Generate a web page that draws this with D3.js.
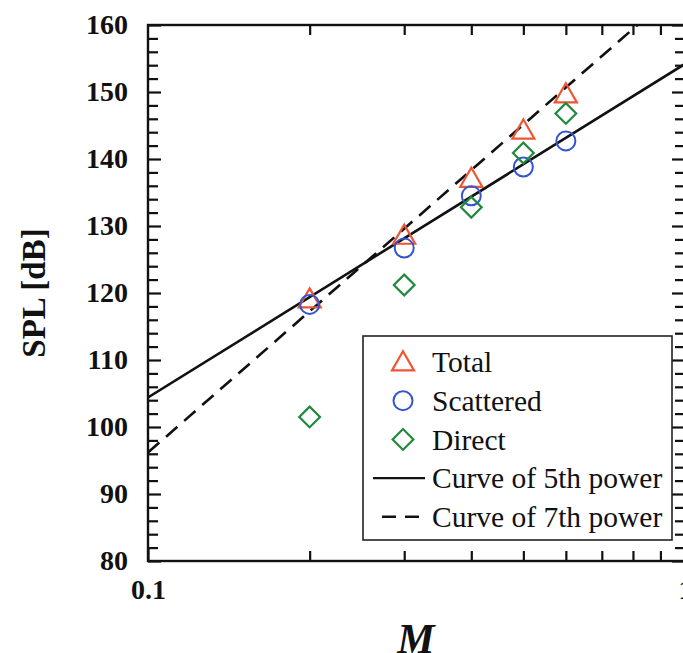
<!DOCTYPE html>
<html>
<head>
<meta charset="utf-8">
<script src="https://cdn.jsdelivr.net/npm/d3@7"></script>
<style>
html, body { margin: 0; padding: 0; background: #fff; }
svg { display: block; }
</style>
</head>
<body>
<svg id="chart" width="683" height="653"></svg>
<script>
// ---- data ----
const machNumbers = [0.2, 0.3, 0.4, 0.5, 0.6];
const totalSPL = [118.8, 128.3, 136.8, 144.0, 149.4];
const scatteredSPL = [118.3, 126.7, 134.5, 138.8, 142.7];
const directSPL = [101.5, 121.2, 132.8, 140.9, 146.8];
// reference power-law curves (straight lines on log axis), endpoints
const curve5M = [0.1, 1];
const curve5SPL = [104.4, 154.2];
const curve7M = [0.1, 1];
const curve7SPL = [96.2, 166.2];
const xMajorTicks = [0.1, 1];
const xMinorTicks = [0.2, 0.3, 0.4, 0.5, 0.6, 0.7, 0.8, 0.9];
const yMajorTicks = [80, 90, 100, 110, 120, 130, 140, 150, 160];
const yMinorTicks = d3.range(80, 161, 2).filter(v => v % 10 !== 0);
const legendLabels = ["Total", "Scattered", "Direct", "Curve of 5th power", "Curve of 7th power"];

// ---- layout ----
const L = 148, R = 685, T = 25, B = 561;
const colTotal = "#ee5535", colScat = "#3356d0", colDir = "#23893c";
const svg = d3.select("#chart");
const x = d3.scaleLog().domain([0.1, 1]).range([L, R]);
const y = d3.scaleLinear().domain([80, 160]).range([B, T]);
const serif = "'Liberation Serif', 'Times New Roman', serif";

svg.append("defs").append("clipPath").attr("id", "plotclip")
  .append("rect").attr("x", L).attr("y", T).attr("width", R - L).attr("height", B - T);

// axes (ticks inward)
function styleAxis(g) {
  g.select(".domain").remove();
  g.selectAll(".tick line").attr("stroke", "#111").attr("stroke-width", 2.2);
  g.selectAll("text").attr("font-family", serif).attr("font-weight", "bold")
    .attr("font-size", 28).attr("fill", "#111");
}
// bottom
svg.append("g").attr("transform", `translate(0,${B})`)
  .call(d3.axisBottom(x).tickValues(xMinorTicks).tickSize(-10).tickFormat(""))
  .call(styleAxis);
svg.append("g").attr("transform", `translate(0,${B})`)
  .call(d3.axisBottom(x).tickValues(xMajorTicks).tickSize(-13).tickPadding(18).tickFormat(d3.format("")))
  .call(styleAxis);
// top
svg.append("g").attr("transform", `translate(0,${T})`)
  .call(d3.axisTop(x).tickValues(xMinorTicks).tickSize(-10).tickFormat(""))
  .call(styleAxis);
// left
svg.append("g").attr("transform", `translate(${L},0)`)
  .call(d3.axisLeft(y).tickValues(yMinorTicks).tickSize(-10).tickFormat(""))
  .call(styleAxis);
svg.append("g").attr("transform", `translate(${L},0)`)
  .call(d3.axisLeft(y).tickValues(yMajorTicks).tickSize(-13).tickPadding(20).tickFormat(d3.format("d")))
  .call(styleAxis);
// right
svg.append("g").attr("transform", `translate(${R},0)`)
  .call(d3.axisRight(y).tickValues(yMinorTicks).tickSize(-10).tickFormat(""))
  .call(styleAxis);
svg.append("g").attr("transform", `translate(${R},0)`)
  .call(d3.axisRight(y).tickValues(yMajorTicks).tickSize(-13).tickFormat(""))
  .call(styleAxis);

// frame
svg.append("rect").attr("x", L).attr("y", T).attr("width", R - L).attr("height", B - T)
  .attr("fill", "none").attr("stroke", "#111").attr("stroke-width", 2.4);

// curves
const line = d3.line().x(d => x(d[0])).y(d => y(d[1]));
const plot = svg.append("g").attr("clip-path", "url(#plotclip)");
plot.append("path").datum(d3.zip(curve5M, curve5SPL)).attr("d", line)
  .attr("fill", "none").attr("stroke", "#111").attr("stroke-width", 2.6);
plot.append("path").datum(d3.zip(curve7M, curve7SPL)).attr("d", line)
  .attr("fill", "none").attr("stroke", "#111").attr("stroke-width", 2.6)
  .attr("stroke-dasharray", "15,9");

// markers
const triPath = d3.symbol().type(d3.symbolTriangle).size(210)();
const diaPath = d3.symbol().type(d3.symbolSquare).size(215)();
plot.selectAll(".tri").data(d3.zip(machNumbers, totalSPL)).join("path")
  .attr("d", triPath).attr("transform", d => `translate(${x(d[0])},${y(d[1])})`)
  .attr("fill", "none").attr("stroke", colTotal).attr("stroke-width", 2.2);
plot.selectAll(".cir").data(d3.zip(machNumbers, scatteredSPL)).join("circle")
  .attr("cx", d => x(d[0])).attr("cy", d => y(d[1])).attr("r", 9.5)
  .attr("fill", "none").attr("stroke", colScat).attr("stroke-width", 2);
plot.selectAll(".dia").data(d3.zip(machNumbers, directSPL)).join("path")
  .attr("d", diaPath).attr("transform", d => `translate(${x(d[0])},${y(d[1])}) rotate(45)`)
  .attr("fill", "none").attr("stroke", colDir).attr("stroke-width", 2.2);

// legend
const lg = svg.append("g");
lg.append("rect").attr("x", 363).attr("y", 336).attr("width", 309).attr("height", 204)
  .attr("fill", "#fff").attr("stroke", "#222").attr("stroke-width", 1.6);
const rowY = i => 362 + i * 38.7;
lg.append("path").attr("d", triPath).attr("transform", `translate(403,${rowY(0) + 2})`)
  .attr("fill", "none").attr("stroke", colTotal).attr("stroke-width", 2.2);
lg.append("circle").attr("cx", 403).attr("cy", rowY(1)).attr("r", 9.5)
  .attr("fill", "none").attr("stroke", colScat).attr("stroke-width", 2);
lg.append("path").attr("d", diaPath).attr("transform", `translate(403,${rowY(2)}) rotate(45)`)
  .attr("fill", "none").attr("stroke", colDir).attr("stroke-width", 2.2);
lg.append("line").attr("x1", 373).attr("x2", 425).attr("y1", rowY(3)).attr("y2", rowY(3))
  .attr("stroke", "#111").attr("stroke-width", 2.4);
lg.append("line").attr("x1", 382).attr("x2", 425).attr("y1", rowY(4)).attr("y2", rowY(4))
  .attr("stroke", "#111").attr("stroke-width", 2.4).attr("stroke-dasharray", "14,9");
lg.selectAll(".lt").data(legendLabels).join("text")
  .attr("x", 432).attr("y", (d, i) => rowY(i)).attr("dy", "0.35em")
  .attr("font-family", serif).attr("font-size", 29.5).attr("fill", "#111")
  .text(d => d);

// axis titles
svg.append("text").attr("transform", "translate(45,293) rotate(-90)")
  .attr("text-anchor", "middle").attr("font-family", serif).attr("font-weight", "bold")
  .attr("font-size", 33).attr("fill", "#111").text("SPL [dB]");
svg.append("text").attr("x", 416).attr("y", 653).attr("text-anchor", "middle")
  .attr("font-family", serif).attr("font-weight", "bold").attr("font-style", "italic")
  .attr("font-size", 42).attr("fill", "#111").text("M");
</script>
</body>
</html>
